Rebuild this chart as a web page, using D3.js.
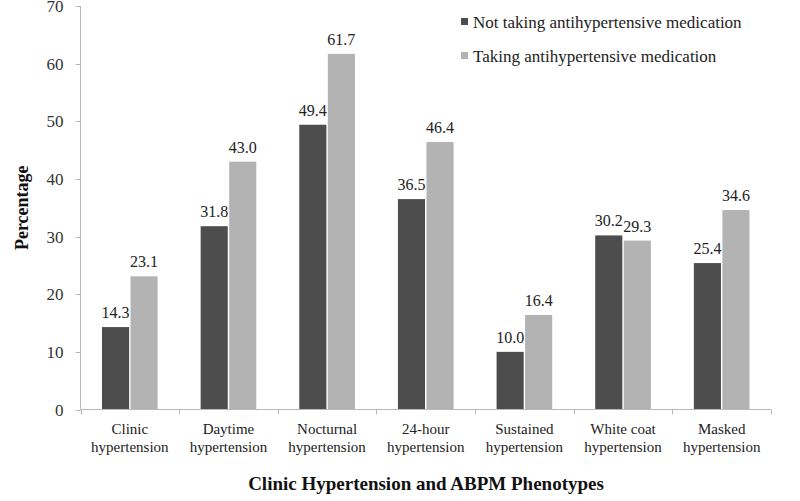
<!DOCTYPE html>
<html><head><meta charset="utf-8">
<script src="https://cdn.jsdelivr.net/npm/d3@7"></script>
<style>body{margin:0;background:#fff}svg{display:block}</style>
</head><body>
<svg id="c" width="800" height="501"></svg>
<script>
const categories = [["Clinic","hypertension"],["Daytime","hypertension"],["Nocturnal","hypertension"],["24-hour","hypertension"],["Sustained","hypertension"],["White coat","hypertension"],["Masked","hypertension"]];
const notTaking = [14.3, 31.8, 49.4, 36.5, 10.0, 30.2, 25.4];
const taking = [23.1, 43.0, 61.7, 46.4, 16.4, 29.3, 34.6];
const seriesNames = ["Not taking antihypertensive medication","Taking antihypertensive medication"];
const yTicks = [0,10,20,30,40,50,60,70];
const colors = ["#4d4d4d","#b3b3b3"];
const font = "'Liberation Serif','Times New Roman',serif";

const svg = d3.select("#c");
const L = 80.5, R = 771, T = 6, B = 409.5;
const keys = categories.map((c,i)=>i);
const x = d3.scaleBand().domain(keys).range([L,R]).paddingInner(0).paddingOuter(0);
const y = d3.scaleLinear().domain([0,70]).range([B,T]);
const inner = d3.scaleBand().domain([0,1]).range([21.5, x.bandwidth()-21.5]).paddingInner(0.05);

// y axis
const ya = svg.append("g");
ya.append("line").attr("x1",L).attr("x2",L).attr("y1",y(70)).attr("y2",y(0)).attr("stroke","#b8b8b8");
yTicks.forEach(t=>{
  ya.append("line").attr("x1",L-5).attr("x2",L).attr("y1",Math.round(y(t))+0.5).attr("y2",Math.round(y(t))+0.5).attr("stroke","#b8b8b8");
  ya.append("text").attr("x",L-17).attr("y",y(t)+6).attr("text-anchor","end")
    .attr("font-family",font).attr("font-size",17).attr("fill","#333").text(t);
});

// bars
const data = [notTaking, taking];
data.forEach((vals,s)=>{
  svg.append("g").selectAll("rect").data(vals).join("rect")
    .attr("x",(d,i)=>x(i)+inner(s)).attr("width",inner.bandwidth())
    .attr("y",d=>y(d)).attr("height",d=>y(0)-y(d)).attr("fill",colors[s]);
  svg.append("g").selectAll("text").data(vals).join("text")
    .attr("x",(d,i)=>x(i)+inner(s)+inner.bandwidth()/2).attr("y",d=>y(d)-9)
    .attr("text-anchor","middle").attr("font-family",font).attr("font-size",16).attr("fill","#222")
    .text(d=>d.toFixed(1));
});

// x axis
const xa = svg.append("g");
xa.append("line").attr("x1",L).attr("x2",R).attr("y1",B).attr("y2",B).attr("stroke","#b8b8b8");
keys.concat([7]).forEach(i=>{
  const xx = i<7 ? x(i) : R;
  xa.append("line").attr("x1",Math.round(xx)+0.5).attr("x2",Math.round(xx)+0.5).attr("y1",B).attr("y2",B+5).attr("stroke","#b8b8b8");
});
categories.forEach((c,i)=>{
  const t = xa.append("text").attr("text-anchor","middle").attr("font-family",font).attr("font-size",15).attr("fill","#222");
  c.forEach((line,j)=>t.append("tspan").attr("x",x(i)+x.bandwidth()/2).attr("y",434+j*18).text(line));
});

// titles
svg.append("text").attr("x",426).attr("y",490).attr("text-anchor","middle")
  .attr("font-family",font).attr("font-size",19).attr("font-weight","bold").attr("fill","#111")
  .text("Clinic Hypertension and ABPM Phenotypes");
svg.append("text").attr("transform",`translate(28,${(T+B)/2}) rotate(-90)`).attr("text-anchor","middle")
  .attr("font-family",font).attr("font-size",18).attr("font-weight","bold").attr("fill","#111")
  .text("Percentage");

// legend
seriesNames.forEach((n,i)=>{
  const gy = 18 + i*34;
  svg.append("rect").attr("x",461).attr("y",gy).attr("width",7).attr("height",7).attr("fill",colors[i]);
  svg.append("text").attr("x",473).attr("y",gy+10).attr("font-family",font).attr("font-size",17).attr("fill","#222").text(n);
});
</script>
</body></html>
